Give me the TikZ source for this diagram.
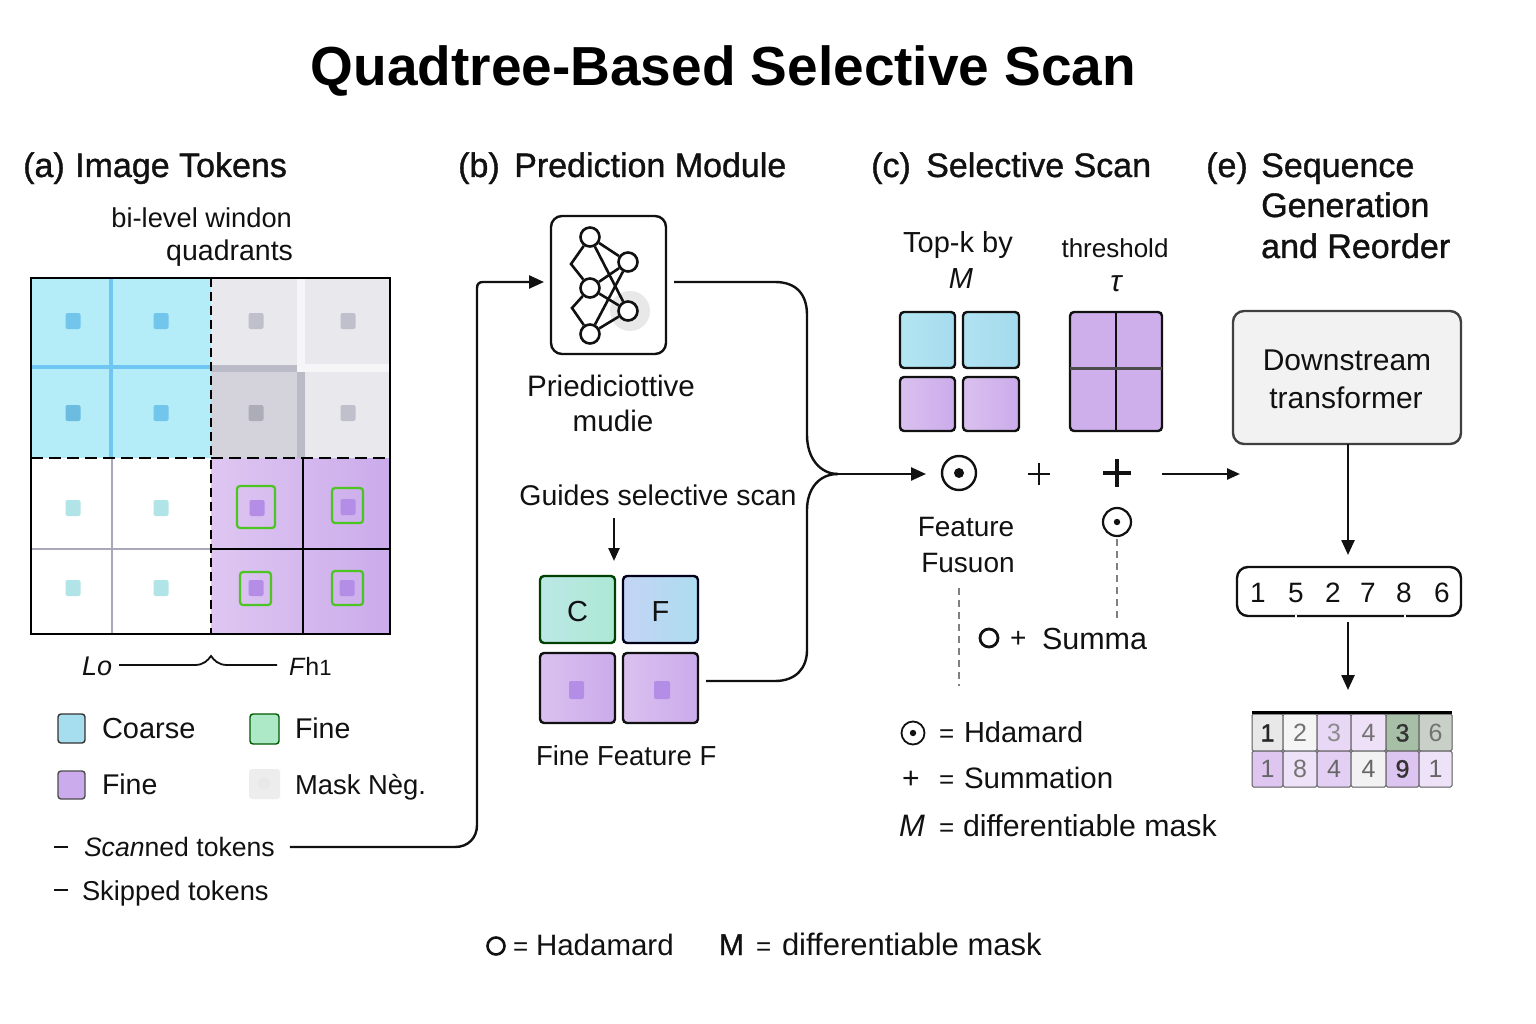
\documentclass[tikz,border=0pt]{standalone}
\usepackage{fontspec}
\setmainfont{Liberation Sans}
\newfontfamily\medfont[FakeBold=1.1]{Liberation Sans}
\newfontfamily\boldf{Liberation Sans Bold}
\usetikzlibrary{arrows.meta,calc,shapes.geometric}
\definecolor{ink}{HTML}{111111}
\definecolor{bluecell}{HTML}{B4ECF7}
\definecolor{blueline}{HTML}{6FC6F2}
\definecolor{bluedot}{HTML}{72C6EC}
\definecolor{graycell}{HTML}{E9E8ED}
\definecolor{graydark}{HTML}{D4D3DB}
\definecolor{grayline}{HTML}{BBBBC8}
\definecolor{graydot}{HTML}{C0C0CC}
\definecolor{teald}{HTML}{B0E4E6}
\definecolor{purpA}{HTML}{DEC6F1}
\definecolor{purpB}{HTML}{CBABEB}
\definecolor{purpdot}{HTML}{B48DE6}
\definecolor{gbox}{HTML}{4CC422}
\definecolor{gridgray}{HTML}{A8A8BA}
\definecolor{tealL}{HTML}{BCE8E6}
\definecolor{tealR}{HTML}{ADE8D4}
\definecolor{periL}{HTML}{C4D4F4}
\definecolor{periR}{HTML}{ADDCF0}
\definecolor{skyL}{HTML}{B4E6F2}
\definecolor{skyR}{HTML}{A4DAEE}
\definecolor{swBlue}{HTML}{A6DDEF}
\definecolor{swGreen}{HTML}{ADE9C6}
\tikzset{
  lbl/.style={inner sep=0pt,outer sep=0pt,text=ink,font=\fontsize{#1}{#1}\selectfont,anchor=base west},
  lbl/.default=29,
  lblc/.style={lbl=#1,anchor=base},
  lblc/.default=29,
  head/.style={inner sep=0pt,text=ink,font=\fontsize{34}{34}\medfont,anchor=base west},
  conn/.style={draw=ink,line width=2.4pt},
  tip/.style={-{Triangle[length=15pt,width=13pt]}},
  tipsm/.style={-{Triangle[length=13pt,width=11pt]}},
  tilep/.style={draw=ink,line width=2.4pt,rounded corners=4pt,inner sep=0pt,outer sep=0pt},
  purp/.style={left color=purpA!80!purpB,right color=purpB},
  gsq/.style={draw=gbox,line width=2.2pt,rounded corners=3pt},
  netn/.style={circle,draw=ink,line width=2.6pt,fill=white,minimum size=19pt,inner sep=0pt},
  netl/.style={draw=ink,line width=2.6pt},
  cellc/.style={draw=black!65,line width=1pt,rounded corners=1.5pt},
  dashgray/.style={black!50,line width=1.6pt,dash pattern=on 7pt off 5pt},
}
\newcommand{\tilebox}[6][]{\node[tilep,#1,minimum width=#4-#2,minimum height=#5-#3,anchor=north west] (#6) at (#2,#3) {};}
\newcommand{\cellnum}[7]{\path[cellc,fill=#5] (#1,#3) rectangle (#2,#4); \node[lblc=25,text=#6] at ({(#1+#2)/2},{#4-9.5}) {#7};}
\begin{document}
\begin{tikzpicture}[x=1pt,y=-1pt]
\useasboundingbox (0,0) rectangle (1536,1024);
\fill[white] (0,0) rectangle (1536,1024);
% title
\node[inner sep=0pt,text=black,anchor=base,font=\fontsize{55}{55}\boldf] (title) at (723.5,86) {Quadtree-Based Selective Scan};
% headers
\node[head] (ha) at (23,177) {(a)};
\node[head] (ha2) at (75,177) {Image Tokens};
\node[head] (hb) at (458,177) {(b)};
\node[head] (hb2) at (514,177) {Prediction Module};
\node[head] (hc) at (871,177) {(c)};
\node[head] (hc2) at (926,177) {Selective Scan};
\node[head] (he) at (1206,177) {(e)};
\node[head] (he2) at (1261,177) {Sequence};
\node[head] (he3) at (1261,217) {Generation};
\node[head] (he4) at (1261,258) {and Reorder};
% ---------- grid
\node[lbl=27.3,anchor=base east] (bi1) at (292,228) {bi-level windon};
\node[lbl=28.5,anchor=base east] (bi2) at (293,261) {quadrants};
\fill[bluecell] (31,278) rectangle (211,458);
\fill[graycell] (211,278) rectangle (390,458);
\fill[graydark] (211,368) rectangle (298,458);
\fill[white] (31,458) rectangle (211,634);
\fill[left color=purpA,right color=purpB] (211,458) rectangle (390,634);
\fill[white!60!graycell] (297,278) rectangle (305,368);
\fill[white!60!graycell] (297,364) rectangle (390,372);
\fill[grayline] (211,365) rectangle (297,372);
\fill[grayline] (297,372) rectangle (305,458);
\draw[blueline,line width=3.5pt] (111,278) -- (111,458);
\draw[blueline,line width=4pt] (31,367) -- (211,367);
\draw[gridgray,line width=1.6pt] (112,458) -- (112,634);
\draw[gridgray,line width=1.6pt] (31,549) -- (211,549);
\draw[black,line width=2.8pt] (303,458) -- (303,634);
\draw[black,line width=2.8pt] (211,549) -- (390,549);
\draw[black,line width=2.4pt,dash pattern=on 9pt off 5pt] (211,278) -- (211,634);
\draw[black,line width=2.4pt,dash pattern=on 12pt off 6pt] (31,458) -- (390,458);
\draw[black,line width=2.6pt] (31,278) rectangle (390,634);
\foreach \x/\y/\c in {73/321/bluedot,161/321/bluedot,73/413/bluedot!95!black,161/413/bluedot,
 256/321/graydot,348/321/graydot,256/413/graydot!90!black,348/413/graydot,
 73/508/teald,161/508/teald,73/588/teald,161/588/teald}
  \fill[\c,rounded corners=2pt] (\x-7.5,\y-8) rectangle (\x+7.5,\y+8);
\foreach \x/\y in {257/508,348/507,256/588,347/588}
  \fill[purpdot,rounded corners=2pt] (\x-7.5,\y-8) rectangle (\x+7.5,\y+8);
\path[gsq] (237,486) rectangle (275,528);
\path[gsq] (332,488) rectangle (363,523);
\path[gsq] (240,572) rectangle (271,605);
\path[gsq] (332,571) rectangle (363,605);
% brace labels
\node[lbl=27,anchor=base west,font=\fontsize{27}{27}\selectfont\itshape] (l0) at (82,675) {Lo};
\node[lbl=25,anchor=base west] (fh) at (289,675) {\textit{F}h{\fontsize{22}{22}\selectfont 1}};
\draw[ink,line width=1.8pt] (119,665) -- (195,665) .. controls (204,665) and (208,660) .. (211,656) .. controls (214,660) and (218,665) .. (227,665) -- (277,665);
% legend
\path[draw=black!80,line width=1.4pt,fill=swBlue,rounded corners=3pt] (58,714) rectangle (85,743);
\node[lbl] (lg1) at (102,738) {Coarse};
\path[draw=green!35!black,line width=1.4pt,fill=swGreen,rounded corners=3pt] (250,714) rectangle (279,744);
\node[lbl=28.5] (lg2) at (295,738) {Fine};
\path[draw=black!70,line width=1.4pt,fill=purpB,rounded corners=3pt] (58,771) rectangle (85,799);
\node[lbl=28.5] (lg3) at (102,794) {Fine};
\fill[black!7,rounded corners=3pt] (249,769) rectangle (280,799);
\fill[black!9] (264,783) circle (6);
\node[lbl=27.4] (lg4) at (295,794) {Mask Nèg.};
\draw[ink,line width=1.8pt] (54,847) -- (68,847);
\node[lbl=26.6] (scan) at (84,856) {\textit{Scan}ned tokens};
\draw[ink,line width=1.8pt] (54,890) -- (68,890);
\node[lbl=27.3] (skip) at (82,900) {Skipped tokens};
% ---------- prediction
\node[draw=ink,line width=2.4pt,rounded corners=11pt,minimum width=115pt,minimum height=138pt,inner sep=0pt,outer sep=0pt] (pred) at (608.5,285) {};
\fill[black!9] (630,311) circle (20);
\fill[white] (628,311) circle (9);
\node[netn] (n1) at (590,237) {};
\node[netn] (n2) at (628,262) {};
\node[netn] (n3) at (590,288) {};
\node[netn] (n4) at (628,311) {};
\node[netn] (n5) at (590,334) {};
\coordinate (e1) at (571,264);
\coordinate (e2) at (572,308);
\draw[netl] (n1) -- (e1) -- (n3);
\draw[netl] (n3) -- (e2) -- (n5);
\draw[netl] (n1) -- (n2);
\draw[netl] (n1) -- (n4);
\draw[netl] (n3) -- (n2);
\draw[netl] (n3) -- (n4);
\draw[netl] (n5) -- (n2);
\draw[netl] (n5) -- (n4);
\node[lblc=29.6] (pm1) at (611,396) {Priediciottive};
\node[lblc=29.6] (pm2) at (613,431) {mudie};
\node[lblc=28.5] (guide) at (658,505) {Guides selective scan};
% feature tiles
\node[draw=green!25!black,line width=2.4pt,rounded corners=4pt,left color=tealL,right color=tealR,minimum width=75pt,minimum height=67pt,inner sep=0pt,outer sep=0pt,anchor=north west] (tc) at (540,576) {};
\node[draw=black!90!blue,line width=2.4pt,rounded corners=4pt,left color=periL,right color=periR,minimum width=75pt,minimum height=67pt,inner sep=0pt,outer sep=0pt,anchor=north west] (tf) at (623,576) {};
\node[lblc=29] at (tc.center |- 0,621) {C};
\node[lblc=29] at (tf.center |- 0,621) {F};
\tilebox[purp]{540}{653}{615}{723}{tp1}
\tilebox[purp]{623}{653}{698}{723}{tp2}
\fill[purpdot,rounded corners=2pt] (569,681) rectangle (584,699);
\fill[purpdot,rounded corners=2pt] (654,681) rectangle (670,699);
\node[lbl=27.5] (ff) at (536,765) {Fine Feature F};
\coordinate (gtop) at (614,518);
\coordinate (gbot) at (614,561);
\draw[conn,tipsm] (gtop) -- (gbot);
% ---------- selective scan
\node[lblc=29] (tk) at (958,253) {Top-k by};
\node[lblc=29,font=\fontsize{29}{29}\selectfont\itshape] (tkm) at (961,288) {M};
\node[lblc=26] (th) at (1115,258) {threshold};
\node[lblc=30,font=\fontsize{30}{30}\selectfont\itshape] (tau) at (1116,291) {τ};
\node[tilep,left color=skyL,right color=skyR!90!skyL,minimum width=55pt,minimum height=56pt,anchor=north west] (s1) at (900,312) {};
\node[tilep,left color=skyL!80!skyR,right color=skyR,minimum width=56pt,minimum height=56pt,anchor=north west] (s2) at (963,312) {};
\node[tilep,purp,minimum width=55pt,minimum height=54pt,anchor=north west] (s3) at (900,377) {};
\node[tilep,purp,minimum width=56pt,minimum height=54pt,anchor=north west] (s4) at (963,377) {};
\node[tilep,fill=purpB!85!purpA,minimum width=92pt,minimum height=119pt,anchor=north west] (s5) at (1070,312) {};
\draw[ink,line width=2.4pt] (s5.north) -- (s5.south);
\draw[ink!75,line width=2.4pt] (s5.west) ++(0,-3) -- ++(92,0);
\node[circle,draw=ink,line width=2.4pt,minimum size=34pt,inner sep=0pt] (odot) at (959,473) {};
\fill[ink] (odot) circle (5);
\node[inner sep=0pt,minimum size=22pt] (plus1) at (1039,474) {};
\draw[ink,line width=1.8pt] (plus1.center) +(-11,0) -- +(11,0) (plus1.center) +(0,-11) -- +(0,11);
\node[inner sep=0pt,minimum size=28pt] (plus2) at (1117,473) {};
\draw[ink,line width=3.4pt] (plus2.center) +(-14,0) -- +(14,0) (plus2.center) +(0,-14) -- +(0,14);
\node[circle,draw=ink,line width=2.2pt,minimum size=28pt,inner sep=0pt] (odot2) at (1117,522) {};
\fill[ink] (odot2) circle (3.2);
\node[lblc=28] (ff1) at (966,536) {Feature};
\node[lblc=28] (ff2) at (968,572) {Fusuon};
\coordinate (d1a) at (959,588);
\coordinate (d1b) at (959,686);
\draw[dashgray] (d1a) -- (d1b);
\coordinate (d2b) at (1117,620);
\draw[dashgray,shorten <=2pt] (odot2) -- (d2b);
\node[circle,draw=ink,line width=2.8pt,minimum width=18pt,minimum height=18pt,inner sep=0pt] (oo) at (989,638) {};
\node[lbl=28] (op) at (1010,647) {+};
\node[lbl=30.5,anchor=base west] (summa) at (1042,649) {Summa};
\node[circle,draw=ink,line width=1.8pt,minimum size=23pt,inner sep=0pt] (kodot) at (913,733) {};
\fill[ink] (kodot) circle (3.2);
\node[lbl=26] at (939,742) {=};
\node[lbl=29] (k1) at (964,742) {Hdamard};
\node[lbl=30] (kplus) at (902,788) {+};
\node[lbl=26] at (939,788) {=};
\node[lbl=29.5] (k2) at (964,788) {Summation};
\node[lbl=30,font=\fontsize{31}{31}\selectfont\itshape] (km) at (899,836) {M};
\node[lbl=26] at (939,836) {=};
\node[lbl=30.3] (k3) at (963,836) {differentiable mask};
% bottom line
\node[circle,draw=ink,line width=2.6pt,minimum width=17pt,minimum height=17pt,inner sep=0pt] (bo) at (496,946) {};
\node[lbl=26] (beq) at (513,955) {=};
\node[lbl=29.5] (b1) at (536,955) {Hadamard};
\node[lbl=30,font=\fontsize{30}{30}\medfont] (b2) at (719,955) {M};
\node[lbl=26] at (756,955) {=};
\node[lbl=31] (b3) at (782,955) {differentiable mask};
% ---------- connectors
\coordinate (merge) at (838,474);
\coordinate (outr) at (1240,474);
\draw[conn,tip,shorten <=15pt] (scan.east |- 0,847) -- (455,847) .. controls (468,847) and (477,838) .. (477,825) -- (477,288) .. controls (477,284) and (479,282) .. (483,282) -- (544,282);
\draw[conn,tip] (merge) -- (926,474);
\draw[conn,shorten <=8pt] ([yshift=3pt]pred.east) -- (775,282) .. controls (796,282) and (807,294) .. (807,315) -- (807,435) .. controls (807,458) and (820,474) .. (merge);
\draw[conn,shorten <=8pt] ([yshift=7pt]tp2.east) -- (775,681) .. controls (796,681) and (807,668) .. (807,650) -- (807,510) .. controls (807,490) and (818,474) .. (merge);
\draw[conn,tipsm,shorten <=30pt] (plus2.center) ++(15,1) -- (outr);
% ---------- downstream
\node[draw=black!75,line width=2.4pt,rounded corners=11pt,fill=black!5,minimum width=228pt,minimum height=133pt,inner sep=0pt,outer sep=0pt] (down) at (1347,377.5) {};
\node[lblc=30] (d1) at (1347,370) {Downstream};
\node[lblc=30] (d2) at (1346,408) {transformer};
\node[draw=ink,line width=2.4pt,rounded corners=11pt,minimum width=224pt,minimum height=49pt,inner sep=0pt,outer sep=0pt] (seq) at (1349,591.5) {};
\foreach \x/\n in {1258/1,1296/5,1333/2,1368/7,1404/8,1442/6}
  \node[lblc=28] at (\x,602) {\n};
\draw[white,line width=3pt] (1295,616) -- (1297,616) (1404,616) -- (1406,616);
\draw[conn,tip] (down.south -| 1348,0) -- (1348,555);
\coordinate (seqout) at (1348,622);
\coordinate (tabin) at (1348,690);
\draw[conn,tip] (seqout) -- (tabin);
\cellnum{1252}{1283}{714}{751}{black!9}{black!85}{\medfont 1}
\cellnum{1283}{1317}{714}{751}{black!4}{black!55}{2}
\cellnum{1317}{1351}{714}{751}{purpA!70!white}{black!45}{3}
\cellnum{1351}{1386}{714}{751}{purpA!55!white}{black!55}{4}
\cellnum{1386}{1419}{714}{751}{green!15!gray!60!white}{black!80}{\medfont 3}
\cellnum{1419}{1452}{714}{751}{green!8!gray!40!white}{black!55}{6}
\cellnum{1252}{1283}{751}{787}{purpA}{black!60}{1}
\cellnum{1283}{1317}{751}{787}{purpA!50!white}{black!55}{8}
\cellnum{1317}{1351}{751}{787}{purpA!85!white}{black!60}{4}
\cellnum{1351}{1386}{751}{787}{black!5}{black!60}{4}
\cellnum{1386}{1419}{751}{787}{purpA!95!purpB}{black!80}{\medfont 9}
\cellnum{1419}{1452}{751}{787}{purpA!50!white}{black!60}{1}
\draw[black,line width=2.6pt] (1252,712.5) -- (1452,712.5);
\end{tikzpicture}
\end{document}
